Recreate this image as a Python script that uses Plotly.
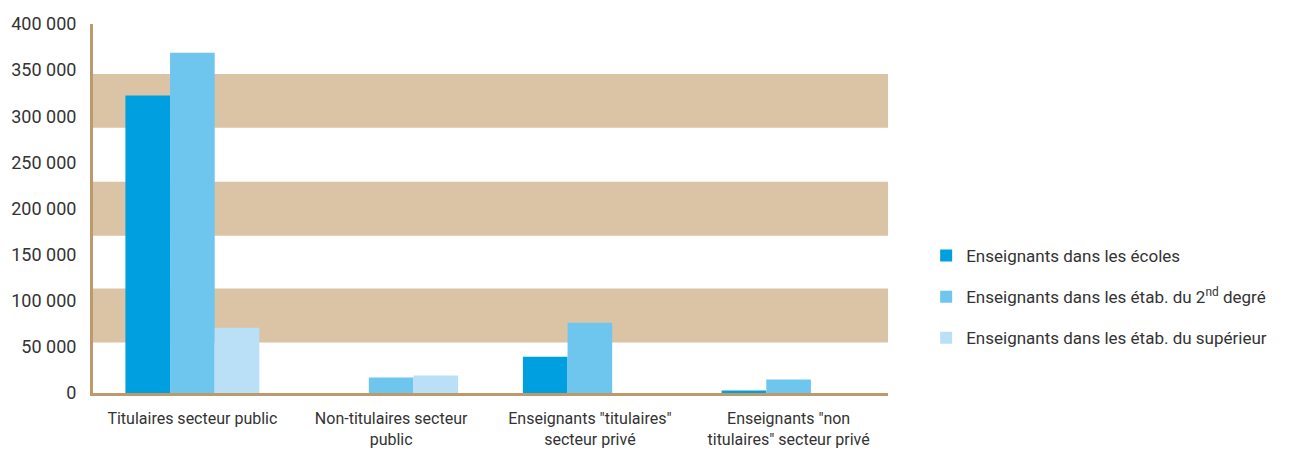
import plotly.graph_objects as go

# categories and values
categories = [
    "Titulaires secteur public",
    "Non-titulaires secteur<br>public",
    "Enseignants \"titulaires\"<br>secteur privé",
    "Enseignants \"non<br>titulaires\" secteur privé",
]
series_names = [
    "Enseignants dans les écoles",
    "Enseignants dans les étab. du 2<sup>nd</sup> degré",
    "Enseignants dans les étab. du supérieur",
]
ecoles = [322400, 0, 39400, 2700]
second_degre = [368800, 16700, 76100, 14600]
superieur = [70700, 18900, 0, 0]

# shaded horizontal bands behind the bars (low, high)
bands = [(54700, 113200), (170500, 229000), (287400, 345900)]

colors = ["#009fe0", "#6ec6ef", "#b9e0f7"]
font_name = "Roboto, sans-serif"

fig = go.Figure()
for i, (name, vals) in enumerate(zip(series_names, [ecoles, second_degre, superieur])):
    fig.add_trace(go.Bar(
        x=categories,
        y=vals,
        name=name,
        marker=dict(color=colors[i], line=dict(width=0)),
        legendgroup=f"g{i}",
    ))

for lo, hi in bands:
    fig.add_shape(
        type="rect", xref="paper", yref="y",
        x0=0, x1=1, y0=lo, y1=hi,
        fillcolor="#dbc4a5", line=dict(width=0), layer="below",
    )

# the page body adds an 8px margin, so the figure is a bit smaller than the window
fig.update_layout(
    width=1288,
    height=446,
    margin=dict(l=85, r=408, t=16, b=61),
    paper_bgcolor="white",
    plot_bgcolor="white",
    barmode="group",
    bargap=0.326,
    bargroupgap=0,
    separators=", ",
    font=dict(family=font_name, size=17, color="#333333"),
    xaxis=dict(
        showline=True, linecolor="#bc9a6c", linewidth=3,
        showgrid=False, ticks="", tickfont=dict(size=16),
        ticklabelstandoff=9,
        automargin=False,
    ),
    yaxis=dict(
        range=[0, 400000],
        tickmode="array",
        tickvals=[0, 50000, 100000, 150000, 200000, 250000, 300000, 350000, 400000],
        tickformat=",d",
        showline=True, linecolor="#bc9a6c", linewidth=3,
        showgrid=False, zeroline=False, ticks="",
        tickfont=dict(size=18),
        ticklabelstandoff=10,
        automargin=False,
    ),
    legend=dict(
        x=1.048, y=0.26, xanchor="left", yanchor="middle",
        font=dict(size=17),
        tracegroupgap=16,
        itemwidth=30,
    ),
)

fig.write_html("out.html")
